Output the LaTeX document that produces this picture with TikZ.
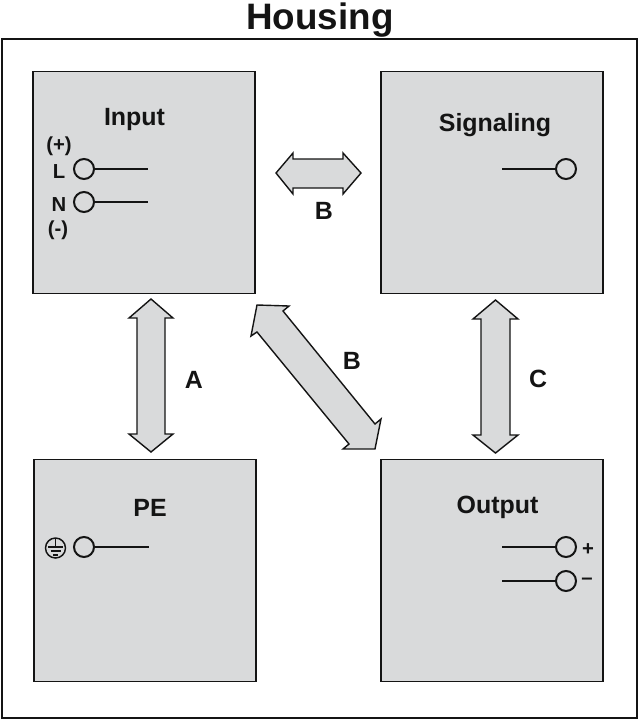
\documentclass[tikz,border=0pt]{standalone}
\usepackage{fontspec}
\setmainfont{Liberation Sans}
\definecolor{panelgray}{HTML}{D9DADB}
\definecolor{inkdark}{HTML}{141414}
\tikzset{
  panel/.style={draw=inkdark,line width=0.8pt,fill=panelgray,minimum width=166.5pt,minimum height=166pt,inner sep=0pt,outer sep=0pt},
  housing/.style={draw=inkdark,line width=1.2pt,fill=white,minimum width=476pt,minimum height=509pt,inner sep=0pt},
  blockarrow/.style={draw=inkdark,line width=1.05pt,fill=panelgray,line join=miter},
  terminal/.style={circle,draw=inkdark,line width=1.5pt,minimum size=15pt,inner sep=0pt,outer sep=0pt,fill=panelgray},
  wire/.style={draw=inkdark,line width=1.5pt},
  titletext/.style={font=\fontsize{27.6pt}{30pt}\selectfont\bfseries,text=inkdark,inner sep=0pt},
  paneltext/.style={font=\fontsize{18.7pt}{20pt}\selectfont\bfseries,text=inkdark,inner sep=0pt},
  smalltext/.style={font=\fontsize{15.2pt}{16pt}\selectfont\bfseries,text=inkdark,inner sep=0pt},
}
\begin{document}
\begin{tikzpicture}[x=0.75pt,y=-0.75pt]
\useasboundingbox (0,0) rectangle (640,722);
\node[titletext] (title) at (320,20) {Housing};
\node[housing] (house) at (319.5,378.5) {};
\node[panel] (input) at (144,182.5) {};
\node[panel] (signal) at (492,182.5) {};
\node[panel] (pe) at (145,570.5) {};
\node[panel] (output) at (492,570.5) {};
% block arrows
\draw[blockarrow] (276,173) -- (293,153) -- (293,159) -- (343,159) -- (343,153) -- (361,173) -- (343,194) -- (343,188) -- (293,188) -- (293,194) -- cycle;
\draw[blockarrow] (151,299) -- (173,318) -- (165,318) -- (165,434) -- (173,434) -- (151,452) -- (129,434) -- (137,434) -- (137,318) -- (129,318) -- cycle;
\draw[blockarrow] (495.5,300) -- (518,319) -- (510,319) -- (510,435) -- (518,435) -- (495.5,453) -- (473,435) -- (481,435) -- (481,319) -- (473,319) -- cycle;
\draw[blockarrow] (257,305) -- (289,306) -- (283,311) -- (375,424) -- (381,419) -- (375,449) -- (343,449) -- (349,444) -- (257,332) -- (251,336) -- cycle;
% panel titles
\node[paneltext] (inputlabel) at (134.5,119.5) {Input};
\node[paneltext] (signallabel) at (495,125) {Signaling};
\node[paneltext] (pelabel) at (150,508) {PE};
\node[paneltext] (outputlabel) at (497.5,507) {Output};
% arrow labels
\node[paneltext] (labelBtop) at (324,211) {B};
\node[paneltext] (labelA) at (194,380) {A};
\node[paneltext] (labelBdiag) at (352,361) {B};
\node[paneltext] (labelC) at (538,379) {C};
% terminals
\node[terminal] (tL) at (84,169) {};
\coordinate (eL) at (148,169);
\draw[wire] (tL) -- (eL);
\node[terminal] (tN) at (84,202) {};
\coordinate (eN) at (148,202);
\draw[wire] (tN) -- (eN);
\node[terminal] (tS) at (566,169) {};
\coordinate (eS) at (502,169);
\draw[wire] (tS) -- (eS);
\node[terminal] (tPE) at (84,547) {};
\coordinate (ePE) at (149,547);
\draw[wire] (tPE) -- (ePE);
\node[terminal] (tP) at (566,547) {};
\coordinate (eP) at (502,547);
\draw[wire] (tP) -- (eP);
\node[terminal] (tM) at (566,581) {};
\coordinate (eM) at (502,581);
\draw[wire] (tM) -- (eM);
% terminal text
\node[smalltext] (plus) at (59,146) {(+)};
\node[smalltext] (lL) at (59,172) {L};
\node[smalltext] (lN) at (59,205) {N};
\node[smalltext] (minus) at (58,230) {(-)};
\node[smalltext] (oplus) at (588,550) {+};
\node[smalltext] (ominus) at (587,581) {\char"2013};
% earth symbol
\node[circle,draw=inkdark,line width=1.1pt,minimum size=15pt,inner sep=0pt] (earth) at (55.5,548) {};
\draw[inkdark,line width=1.1pt] (55.5,539) -- (55.5,547) (48,547) -- (63,547) (50.5,551) -- (60.5,551) (53,555) -- (58,555);
\end{tikzpicture}
\end{document}
